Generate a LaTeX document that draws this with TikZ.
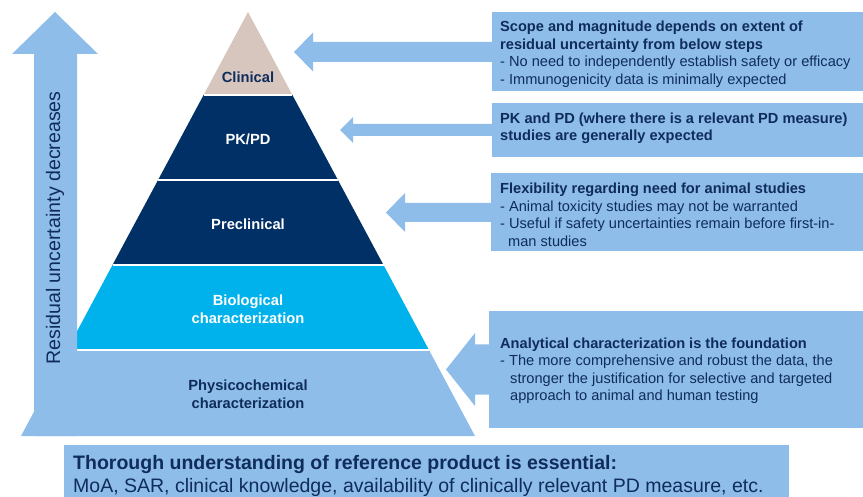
\documentclass[tikz,border=0pt]{standalone}
\usepackage{fontspec}
\setmainfont{Liberation Sans}
\usetikzlibrary{calc}
\definecolor{lb}{RGB}{141,189,232}
\definecolor{navy}{RGB}{0,48,102}
\definecolor{cyanl}{RGB}{0,178,235}
\definecolor{tanc}{RGB}{214,198,189}
\definecolor{tnavy}{RGB}{16,44,92}
\newcommand\blockarrow[5]{%
  \fill[lb] (#1) -- ($(#1)+(#5,-#3)$) -- ($(#1)+(#5,-#4)$) -- ($(#2.west|-#1)+(1,-#4)$)
   -- ($(#2.west|-#1)+(1,#4)$) -- ($(#1)+(#5,#4)$) -- ($(#1)+(#5,#3)$) -- cycle;}
\begin{document}
\begin{tikzpicture}[x=1pt,y=-1pt,
  sep/.style={draw=white, line width=1.5pt},
  lbl/.style={font=\fontsize{14.7}{17.5}\selectfont\bfseries, align=center, inner sep=0pt},
  box/.style={fill=lb, anchor=north west, inner sep=0pt},
  btxt/.style={anchor=north west, align=left, text=tnavy, inner sep=0pt, font=\fontsize{14.6}{17.5}\selectfont},
]
\useasboundingbox (0,0) rectangle (863,497);
% pyramid layers
\fill[tanc] (248,12) -- (292.4,95) -- (203.6,95) -- cycle;
\fill[navy] (203.6,95) -- (292.4,95) -- (383.5,265) -- (112.5,265) -- cycle;
\fill[cyanl] (112.5,265) -- (383.5,265) -- (429,350) -- (67,350) -- cycle;
\fill[lb] (67,350) -- (429,350) -- (475,436) -- (21,436) -- cycle;
\draw[sep] (203.6,95) -- (292.4,95);
\draw[sep] (158.1,180) -- (337.9,180);
\draw[sep] (112.5,265) -- (383.5,265);
\draw[sep] (67,350) -- (429,350);
% vertical arrow
\fill[lb] (34,436) -- (34,54) -- (12,54) -- (55,12) -- (98,54) -- (77,54) -- (77,436) -- cycle;
\node[rotate=90, text=tnavy, font=\fontsize{19.6}{21}\selectfont, inner sep=0pt] (resid) at (55,228) {Residual uncertainty decreases};
% layer labels
\node[lbl, text=tnavy] (clin) at (248,77) {Clinical};
\node[lbl, text=white] (pkpd) at (248,139) {PK/PD};
\node[lbl, text=white] (precl) at (248,224) {Preclinical};
\node[lbl, text=white] (bio) at (248,309) {Biological\\characterization};
\node[lbl, text=tnavy] (phys) at (248,394) {Physicochemical\\characterization};
% boxes
\node[box, minimum width=371pt, minimum height=79pt] (b1) at (492,12) {};
\node[box, minimum width=371pt, minimum height=54pt] (b2) at (492,103) {};
\node[box, minimum width=372pt, minimum height=78pt] (b3) at (491,173) {};
\node[box, minimum width=374pt, minimum height=117pt] (b4) at (489,311) {};
\node[box, minimum width=725pt, minimum height=52pt] (b5) at (64,445) {};
% box texts
\node[btxt] (t1) at (500,21) {\textbf{Scope and magnitude depends on extent of}\\
\textbf{residual uncertainty from below steps}\\
- No need to independently establish safety or efficacy\\
- Immunogenicity data is minimally expected};
\node[btxt] (t2) at (500,112.5) {\textbf{PK and PD (where there is a relevant PD measure)}\\
\textbf{studies are generally expected}};
\node[btxt] (t3) at (500,183) {\textbf{Flexibility regarding need for animal studies}\\
- Animal toxicity studies may not be warranted\\
- Useful if safety uncertainties remain before first-in-\\
\hspace*{8pt}man studies};
\node[btxt] (t4) at (500,337.5) {\textbf{Analytical characterization is the foundation}\\
- The more comprehensive and robust the data, the\\
\hspace*{10pt}stronger the justification for selective and targeted\\
\hspace*{10pt}approach to animal and human testing};
\node[btxt, font=\fontsize{19.5}{23}\selectfont] (t5) at (73,455.5) {\textbf{Thorough understanding of reference product is essential:}\\
MoA, SAR, clinical knowledge, availability of clinically relevant PD measure, etc.};
% block arrows
\coordinate (tip1) at (294,52);
\coordinate (tip2) at (340,130);
\coordinate (tip3) at (386,212.5);
\coordinate (tip4) at (446,369.5);
\blockarrow{tip1}{b1}{19.5}{10}{19}
\blockarrow{tip2}{b2}{13}{6}{13}
\blockarrow{tip3}{b3}{19.5}{9.5}{19}
\blockarrow{tip4}{b4}{36.5}{25}{29}
\end{tikzpicture}
\end{document}
